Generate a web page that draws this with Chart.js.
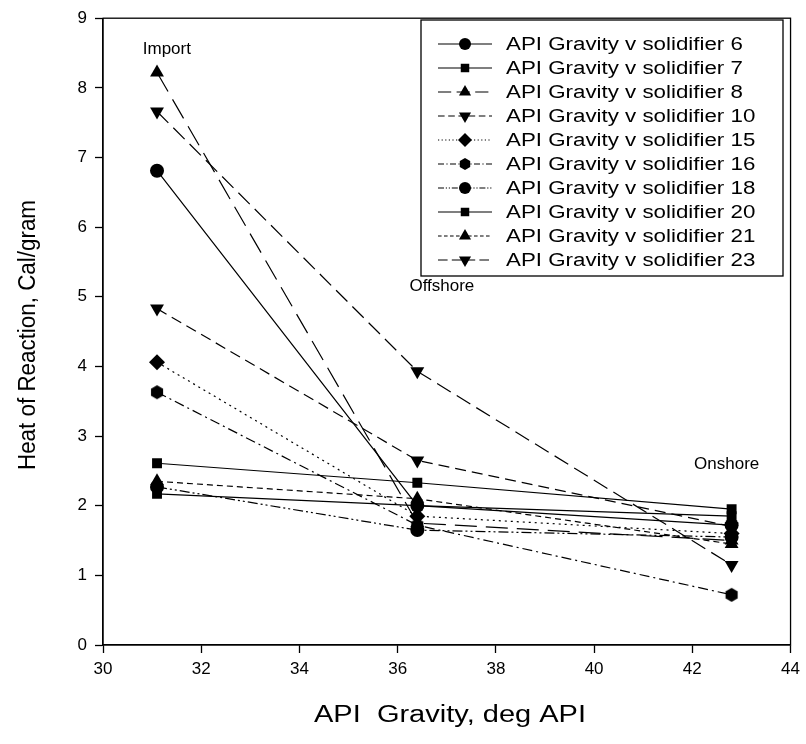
<!DOCTYPE html>
<html>
<head>
    <title>Heat of Reaction vs API Gravity</title>
    <meta charset="UTF-8">
    <script src="https://cdn.jsdelivr.net/npm/chart.js"></script>
    <style>
        html, body { margin: 0; padding: 0; background: #fff; }
        #wrap { width: 806px; height: 744px; }
    </style>
</head>
<body>
    <div id="wrap"><canvas id="heatChart"></canvas></div>
    <script>
        // crude source: Import, Offshore, Onshore
        const siteNames = ['Import', 'Offshore', 'Onshore'];
        const apiGravity = [31.1, 36.4, 42.8];
        const siteLabelY = [8.55, 5.15, 2.6];

        const solidifier6 = [6.81, 2.0, 1.72];
        const solidifier7 = [2.61, 2.33, 1.95];
        const solidifier8 = [8.22, 1.75, 1.5];
        const solidifier10 = [4.83, 2.65, 1.7];
        const solidifier15 = [4.06, 1.85, 1.6];
        const solidifier16 = [3.63, 1.72, 0.72];
        const solidifier18 = [2.27, 1.65, 1.55];
        const solidifier20 = [2.17, 2.0, 1.85];
        const solidifier21 = [2.35, 2.1, 1.45];
        const solidifier23 = [7.66, 3.93, 1.15];

        const xTicks = [30, 32, 34, 36, 38, 40, 42, 44];
        const yTicks = [0, 1, 2, 3, 4, 5, 6, 7, 8, 9];

        const FONT = '"Liberation Sans", Arial, sans-serif';

        // small hexagon marker, Chart.js has no built-in one
        function hexMarker(r) {
            const c = document.createElement('canvas');
            c.width = c.height = 2 * r + 2;
            const g = c.getContext('2d');
            g.fillStyle = '#000';
            g.beginPath();
            for (let i = 0; i < 6; i++) {
                const a = -Math.PI / 2 + i * Math.PI / 3;
                g.lineTo(r + 1 + r * Math.cos(a), r + 1 + r * Math.sin(a));
            }
            g.closePath();
            g.fill();
            return c;
        }
        const hex = hexMarker(7);
        const hexSmall = hexMarker(6);

        const series = [
            { name: 'API Gravity v solidifier 6', vals: solidifier6, style: 'circle', rot: 0, r: 7, dash: [] },
            { name: 'API Gravity v solidifier 7', vals: solidifier7, style: 'rect', rot: 0, r: 7, dash: [] },
            { name: 'API Gravity v solidifier 8', vals: solidifier8, style: 'triangle', rot: 0, r: 8, dash: [22, 9] },
            { name: 'API Gravity v solidifier 10', vals: solidifier10, style: 'triangle', rot: 180, r: 8, dash: [11, 6] },
            { name: 'API Gravity v solidifier 15', vals: solidifier15, style: 'rectRot', rot: 0, r: 8, dash: [2, 4] },
            { name: 'API Gravity v solidifier 16', vals: solidifier16, style: hex, rot: 0, r: 7, dash: [10, 4, 2, 4] },
            { name: 'API Gravity v solidifier 18', vals: solidifier18, style: 'circle', rot: 0, r: 7, dash: [10, 3, 2, 3, 2, 3] },
            { name: 'API Gravity v solidifier 20', vals: solidifier20, style: 'rect', rot: 0, r: 7, dash: [] },
            { name: 'API Gravity v solidifier 21', vals: solidifier21, style: 'triangle', rot: 0, r: 8, dash: [6, 4] },
            { name: 'API Gravity v solidifier 23', vals: solidifier23, style: 'triangle', rot: 180, r: 8, dash: [16, 7] }
        ];

        const datasets = series.map(s => ({
            label: s.name,
            data: s.vals.map((v, i) => ({ x: apiGravity[i], y: v })),
            borderColor: '#000',
            backgroundColor: '#000',
            borderWidth: 1.2,
            borderDash: s.dash,
            pointStyle: s.style,
            pointRotation: s.rot,
            pointRadius: s.r,
            pointBorderWidth: 0,
            tension: 0
        }));

        // text stretched or squeezed to a given width
        function fitText(ctx, text, x, y, width) {
            const w = ctx.measureText(text).width;
            ctx.save();
            ctx.translate(x, y);
            ctx.scale(width / w, 1);
            ctx.fillText(text, 0, 0);
            ctx.restore();
        }

        // frame, site names, axis titles and the boxed legend
        const decorations = {
            id: 'decorations',
            afterDraw(chart) {
                const ctx = chart.ctx;
                const a = chart.chartArea;
                const xs = chart.scales.x, ys = chart.scales.y;
                ctx.save();
                ctx.strokeStyle = '#000';
                ctx.lineWidth = 1.3;
                ctx.strokeRect(a.left, a.top, a.right - a.left, a.bottom - a.top);

                // legend box
                const lx = 421, ly = 20, lw = 362, lh = 256;
                ctx.fillStyle = '#fff';
                ctx.fillRect(lx, ly, lw, lh);
                ctx.strokeStyle = '#000';
                ctx.lineWidth = 1.3;
                ctx.strokeRect(lx, ly, lw, lh);
                ctx.font = '18px ' + FONT;
                ctx.textAlign = 'left';
                ctx.textBaseline = 'middle';
                series.forEach((s, i) => {
                    const y = 44 + i * 24;
                    ctx.save();
                    ctx.setLineDash(s.dash.map(d => d * 0.6));
                    ctx.lineWidth = 1.2;
                    ctx.beginPath();
                    ctx.moveTo(438, y);
                    ctx.lineTo(492, y);
                    ctx.stroke();
                    ctx.restore();
                    ctx.fillStyle = '#000';
                    Chart.helpers.drawPoint(ctx, {
                        pointStyle: s.style === hex ? hexSmall : s.style,
                        rotation: s.rot, radius: s.r - 1, borderWidth: 0
                    }, 465, y);
                    const w = ctx.measureText(s.name).width;
                    fitText(ctx, s.name, 506, y + 1, w * 1.24);
                });

                ctx.fillStyle = '#000';
                ctx.font = '17px ' + FONT;
                ctx.textAlign = 'center';
                siteNames.forEach((n, i) => {
                    const dx = i === 0 ? 0.2 : (i === 1 ? 0.5 : -0.1);
                    ctx.fillText(n, xs.getPixelForValue(apiGravity[i] + dx), ys.getPixelForValue(siteLabelY[i]));
                });

                ctx.font = '23px ' + FONT;
                fitText(ctx, 'API  Gravity, deg API', 450, 716, 272);
                ctx.save();
                ctx.translate(29, 335);
                ctx.rotate(-Math.PI / 2);
                fitText(ctx, 'Heat of Reaction, Cal/gram', 0, 0, 270);
                ctx.restore();
                ctx.restore();
            }
        };

        const ctx = document.getElementById('heatChart').getContext('2d');
        new Chart(ctx, {
            type: 'line',
            data: { datasets },
            options: {
                responsive: true,
                maintainAspectRatio: false,
                animation: false,
                layout: { padding: { top: 15, right: 13, left: 0, bottom: 0 } },
                plugins: {
                    legend: { display: false },
                    tooltip: { enabled: false }
                },
                scales: {
                    x: {
                        type: 'linear',
                        min: 30,
                        max: 44,
                        afterBuildTicks: sc => { sc.ticks = xTicks.map(v => ({ value: v })); },
                        afterFit: sc => { sc.height = 99; },
                        grid: { drawOnChartArea: false, color: '#000', tickLength: 8, tickWidth: 1.3 },
                        border: { color: '#000', width: 1.3 },
                        ticks: { color: '#000', font: { family: FONT, size: 17 }, padding: 6, maxRotation: 0 }
                    },
                    y: {
                        type: 'linear',
                        min: 0,
                        max: 9,
                        afterBuildTicks: sc => { sc.ticks = yTicks.map(v => ({ value: v })); },
                        afterFit: sc => { sc.width = 103; },
                        grid: { drawOnChartArea: false, color: '#000', tickLength: 8, tickWidth: 1.3 },
                        border: { color: '#000', width: 1.3 },
                        ticks: { color: '#000', font: { family: FONT, size: 17 }, padding: 8 }
                    }
                }
            },
            plugins: [decorations]
        });
    </script>
</body>
</html>
